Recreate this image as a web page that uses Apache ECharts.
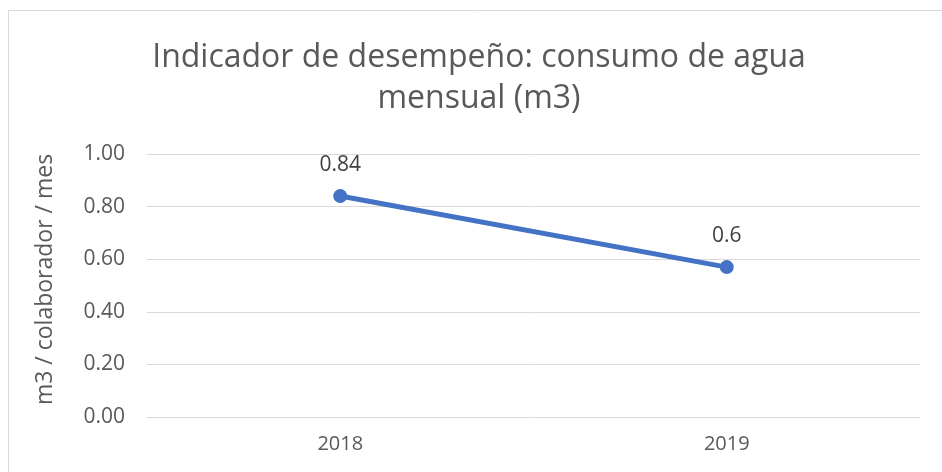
<!DOCTYPE html>
<html>
<head>
<meta charset="utf-8">
<script src="https://cdn.jsdelivr.net/npm/echarts@6/dist/echarts.min.js"></script>
<style>
  html, body { margin: 0; padding: 0; background: #fff; }
  #chart { width: 942px; height: 472px; }
</style>
</head>
<body>
<div id="chart"></div>
<script>
  // datos del indicador
  const years = ['2018', '2019'];
  const consumo = [0.84, 0.57];
  const etiquetas = ['0.84', '0.6'];
  const yTicks = [0, 0.2, 0.4, 0.6, 0.8, 1.0];

  const font = '"Open Sans", sans-serif';
  const chart = echarts.init(document.getElementById('chart'));

  chart.setOption({
    animation: false,
    title: {
      text: 'Indicador de desempeño: consumo de agua\nmensual (m3)',
      left: 474,
      top: 32,
      textAlign: 'center',
      textStyle: {
        fontFamily: font,
        fontSize: 32,
        fontWeight: 'normal',
        color: '#595959',
        lineHeight: 41
      }
    },
    graphic: [{
      type: 'rect',
      shape: { x: 8.5, y: 10.5, width: 1000, height: 1000 },
      style: { fill: null, stroke: '#d9d9d9', lineWidth: 1 },
      silent: true
    }],
    grid: {
      left: 147,
      right: 22,
      top: 154,
      bottom: 55
    },
    xAxis: {
      type: 'category',
      data: years,
      boundaryGap: true,
      axisLine: { show: false },
      axisTick: { show: false },
      axisLabel: {
        fontFamily: font,
        fontSize: 20,
        color: '#595959',
        margin: 17
      }
    },
    yAxis: {
      type: 'value',
      min: yTicks[0],
      max: yTicks[yTicks.length - 1],
      interval: 0.2,
      name: 'm3 / colaborador / mes',
      nameLocation: 'middle',
      nameGap: 90,
      nameTextStyle: {
        fontFamily: font,
        fontSize: 23,
        color: '#595959',
        padding: [0, 0, 0, 12]
      },
      axisLine: { show: false },
      axisTick: { show: false },
      splitLine: { lineStyle: { color: '#d9d9d9', width: 1 } },
      axisLabel: {
        fontFamily: font,
        fontSize: 21,
        color: '#595959',
        margin: 22,
        formatter: v => v.toFixed(2)
      }
    },
    series: [{
      type: 'line',
      data: consumo,
      symbol: 'circle',
      symbolSize: 14,
      lineStyle: { color: '#4472c4', width: 5 },
      itemStyle: { color: '#4472c4' },
      label: {
        show: true,
        position: 'top',
        distance: 14,
        fontFamily: font,
        fontSize: 21,
        color: '#404040',
        formatter: p => etiquetas[p.dataIndex]
      }
    }]
  });
</script>
</body>
</html>
